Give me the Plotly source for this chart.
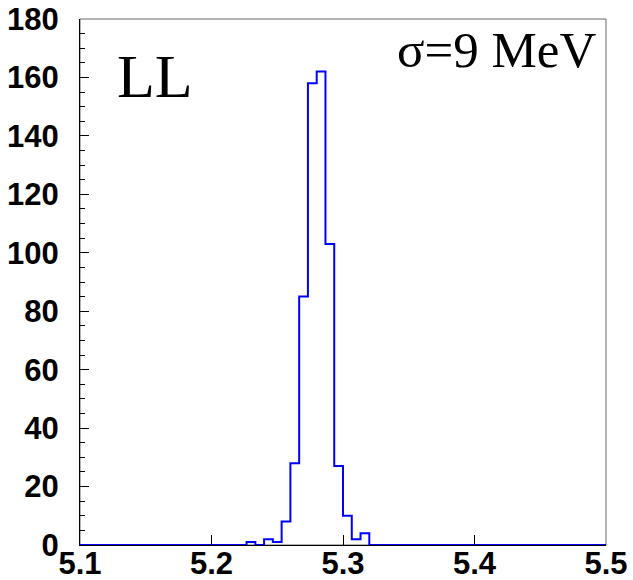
import plotly.graph_objects as go

# Histogram definition: 60 equal bins on [5.1, 5.5] GeV
x_min = 5.1
x_max = 5.5
n_bins = 60

# Bin contents (events per bin)
counts = [0] * 19 + [1, 0, 2, 1, 8, 28, 85, 158, 162, 103, 27, 10, 2, 4] + [0] * 27

y_tick_vals = [0, 20, 40, 60, 80, 100, 120, 140, 160, 180]
x_tick_vals = [5.1, 5.2, 5.3, 5.4, 5.5]
x_tick_text = ["5.1", "5.2", "5.3", "5.4", "5.5"]

label_text = "LL"
sigma_text = "σ=9 MeV"

width = (x_max - x_min) / n_bins
edges = [x_min + i * width for i in range(n_bins + 1)]
# step outline: repeat last content so the final bin gets its top edge
step_y = counts + [counts[-1]]

fig = go.Figure()
fig.add_trace(go.Scatter(
    x=edges, y=step_y, mode="lines", line=dict(color="#0000ff", width=2, shape="hv"),
    cliponaxis=False, showlegend=False, hoverinfo="skip",
))

tick_font = dict(family="Liberation Sans", size=31, color="black", weight="bold")

fig.update_layout(
    width=633, height=580,
    margin=dict(l=80, r=27, t=19, b=35, pad=0),
    paper_bgcolor="white", plot_bgcolor="white",
    showlegend=False,
    xaxis=dict(
        range=[x_min, x_max], tickvals=x_tick_vals, ticktext=x_tick_text,
        ticks="inside", ticklen=10, tickcolor="black", tickwidth=1,
        showline=True, linecolor="black", linewidth=1,
        showgrid=False, zeroline=False, tickfont=tick_font,
        ticklabelstandoff=-9, automargin=False,
    ),
    yaxis=dict(
        range=[0, 180], tickvals=y_tick_vals,
        ticks="inside", ticklen=9, tickcolor="black", tickwidth=1,
        minor=dict(dtick=5, ticks="inside", ticklen=5, tickcolor="black", showgrid=False),
        showline=True, linecolor="black", linewidth=1,
        showgrid=False, zeroline=False, tickfont=tick_font,
        ticklabelstandoff=14, automargin=False,
    ),
    shapes=[dict(
        type="rect", xref="paper", yref="paper", x0=0, x1=1, y0=0, y1=1,
        line=dict(color="#666666", width=1), layer="below",
    )],
    annotations=[
        dict(text=label_text, xref="paper", yref="paper", x=0.0665, y=0.8915,
             xanchor="left", yanchor="middle", showarrow=False,
             font=dict(family="Liberation Serif", size=62, color="black")),
        dict(text=sigma_text, xref="paper", yref="paper", x=0.985, y=0.941,
             xanchor="right", yanchor="middle", showarrow=False,
             font=dict(family="Liberation Serif", size=51, color="black")),
    ],
)

fig.write_html("out.html")
